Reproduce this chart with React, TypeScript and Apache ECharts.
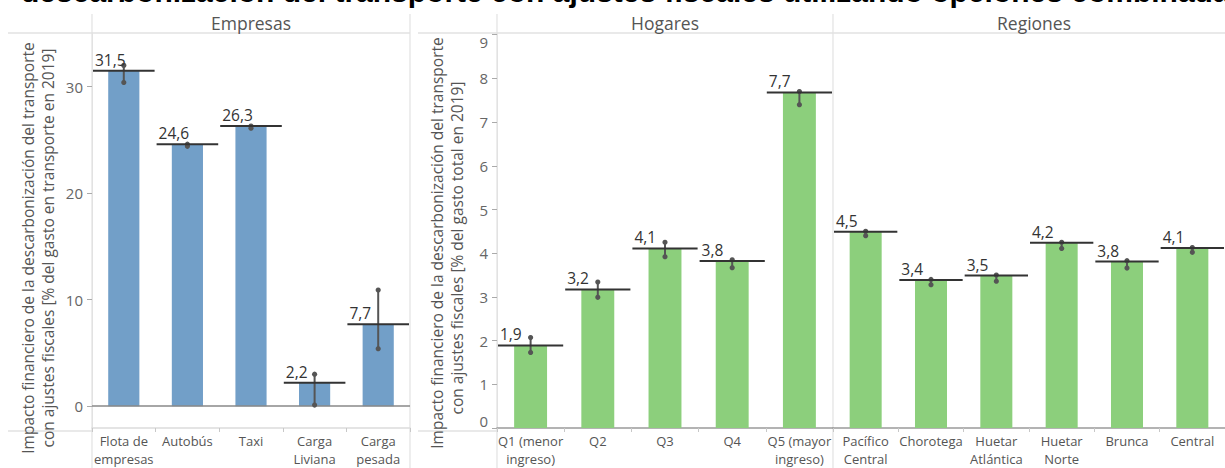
import React, { useEffect, useRef } from "react";
import * as echarts from "echarts";

const empresasCats = ["Flota de\nempresas", "Autobús", "Taxi", "Carga\nLiviana", "Carga\npesada"];
const empresasValues = [31.5, 24.6, 26.3, 2.2, 7.7];
const empresasLow = [30.4, 24.4, 26.1, 0.1, 5.4];
const empresasHigh = [32.0, 24.6, 26.3, 3.0, 10.9];

const hogaresCats = ["Q1 (menor\ningreso)", "Q2", "Q3", "Q4", "Q5 (mayor\ningreso)"];
const hogaresValues = [1.89, 3.17, 4.11, 3.82, 7.68];
const hogaresLow = [1.73, 2.99, 3.92, 3.67, 7.4];
const hogaresHigh = [2.07, 3.34, 4.25, 3.85, 7.7];

const regionesCats = ["Pacífico\nCentral", "Chorotega", "Huetar\nAtlántica", "Huetar\nNorte", "Brunca", "Central"];
const regionesValues = [4.49, 3.39, 3.49, 4.24, 3.81, 4.12];
const regionesLow = [4.4, 3.28, 3.36, 4.11, 3.66, 4.02];
const regionesHigh = [4.5, 3.4, 3.5, 4.25, 3.83, 4.13];

const empresasTicks = [0, 10, 20, 30];
const hogaresTicks = [0, 1, 2, 3, 4, 5, 6, 7, 8, 9];

const panelTitles = ["Empresas", "Hogares", "Regiones"];
const titleText = "descarbonización del transporte con ajustes fiscales utilizando opciones combinadas.";
const axisTitleEmpresas = [
  "Impacto financiero de la descarbonización del transporte",
  "con ajustes fiscales [% del gasto en transporte en 2019]",
];
const axisTitleHogares = [
  "Impacto financiero de la descarbonización del transporte",
  "con ajustes fiscales [% del gasto total en 2019]",
];

const BLUE = "#729fc8";
const GREEN = "#8ccf7c";
const FONT = '"Open Sans", "Noto Sans", sans-serif';

const fmt = (v: number) => v.toFixed(1).replace(".", ",");

function renderRef(params: any, api: any) {
  const cat = api.value(0);
  const v = api.value(1);
  const lo = api.value(2);
  const hi = api.value(3);
  const p = api.coord([cat, v]);
  const pLo = api.coord([cat, lo]);
  const pHi = api.coord([cat, hi]);
  const bw = api.size([1, 0])[0];
  const x0 = p[0] - bw / 2 + 1;
  const x1 = p[0] + bw / 2 - 1;
  return {
    type: "group",
    children: [
      {
        type: "line",
        shape: { x1: p[0], y1: pLo[1], x2: p[0], y2: pHi[1] },
        style: { stroke: "#555", lineWidth: 2 },
      },
      { type: "circle", shape: { cx: p[0], cy: pLo[1], r: 2.6 }, style: { fill: "#555" } },
      { type: "circle", shape: { cx: p[0], cy: pHi[1], r: 2.6 }, style: { fill: "#555" } },
      {
        type: "line",
        shape: { x1: x0, y1: p[1], x2: x1, y2: p[1] },
        style: { stroke: "#333", lineWidth: 2 },
      },
      {
        type: "text",
        x: x0 + 2,
        y: p[1] - 3,
        style: {
          text: fmt(v),
          fill: "#333",
          fontSize: 15.5,
          fontFamily: FONT,
          align: "left",
          verticalAlign: "bottom",
        },
      },
    ],
  };
}

export default function App() {
  const ref = useRef<HTMLDivElement>(null);
  useEffect(() => {
    document.body.style.margin = "0";
    if (!ref.current) return;
    const chart = echarts.init(ref.current, null, { renderer: "svg" });

    const xCommon = {
      type: "category" as const,
      axisLine: { onZero: false, lineStyle: { color: "#dcdcdc", width: 1.5 } },
      axisTick: { show: true, length: 4, interval: 0, lineStyle: { color: "#c8c8c8" } },
      axisLabel: {
        interval: 0,
        color: "#555",
        fontSize: 13,
        fontFamily: FONT,
        lineHeight: 18,
        margin: 4,
      },
    };
    const yLabel = { color: "#666", fontSize: 15, fontFamily: FONT, margin: 9 };

    const lightLine = "#e2e2e2";
    const gLine = (x1: number, y1: number, x2: number, y2: number, color = lightLine, w = 1.5) => ({
      type: "line",
      shape: { x1, y1, x2, y2 },
      style: { stroke: color, lineWidth: w },
      silent: true,
      z: 0,
    });
    const gText = (text: string, x: number, y: number, extra: any = {}) => ({
      type: "text",
      x,
      y,
      silent: true,
      style: {
        text,
        fill: "#555",
        fontSize: 15.5,
        fontFamily: FONT,
        align: "center",
        verticalAlign: "middle",
        ...extra,
      },
    });

    const option: any = {
      animation: false,
      grid: [
        { left: 92, top: 33, width: 318, height: 398 },
        { left: 497, top: 33, width: 336, height: 398 },
        { left: 833, top: 33, width: 403, height: 398 },
      ],
      xAxis: [
        { ...xCommon, gridIndex: 0, data: empresasCats },
        { ...xCommon, gridIndex: 1, data: hogaresCats, axisLine: { onZero: false, lineStyle: { color: "#9a9a9a", width: 1.5 } } },
        { ...xCommon, gridIndex: 2, data: regionesCats, axisLine: { onZero: false, lineStyle: { color: "#9a9a9a", width: 1.5 } } },
      ],
      yAxis: [
        {
          type: "value",
          gridIndex: 0,
          min: -2.05,
          max: 35.04,
          splitLine: { show: false },
          axisLine: { show: true, lineStyle: { color: lightLine } },
          axisTick: { show: true, length: 5, customValues: empresasTicks, lineStyle: { color: "#aaa" } },
          axisLabel: { ...yLabel, customValues: empresasTicks },
        },
        {
          type: "value",
          gridIndex: 1,
          min: 0,
          max: 9.04,
          splitLine: { show: false },
          axisLine: { show: true, lineStyle: { color: lightLine } },
          axisTick: { show: true, length: 5, customValues: hogaresTicks, lineStyle: { color: "#aaa" } },
          axisLabel: {
            ...yLabel,
            customValues: hogaresTicks,
            verticalAlignMinLabel: "bottom",
            verticalAlignMaxLabel: "top",
          },
        },
        {
          type: "value",
          gridIndex: 2,
          min: 0,
          max: 9.04,
          splitLine: { show: false },
          axisLine: { show: false },
          axisTick: { show: false },
          axisLabel: { show: false },
        },
      ],
      series: [
        {
          type: "bar",
          xAxisIndex: 0,
          yAxisIndex: 0,
          data: empresasValues,
          barWidth: "49%",
          itemStyle: { color: BLUE },
          markLine: {
            silent: true,
            symbol: "none",
            label: { show: false },
            lineStyle: { color: "#888", width: 1.5, type: "solid" },
            data: [{ yAxis: 0 }],
          },
        },
        {
          type: "custom",
          xAxisIndex: 0,
          yAxisIndex: 0,
          data: empresasValues.map((v, i) => [i, v, empresasLow[i], empresasHigh[i]]),
          encode: { x: 0, y: 1 },
          renderItem: renderRef,
          clip: false,
          z: 5,
        },
        {
          type: "bar",
          xAxisIndex: 1,
          yAxisIndex: 1,
          data: hogaresValues,
          barWidth: "49%",
          itemStyle: { color: GREEN },
        },
        {
          type: "custom",
          xAxisIndex: 1,
          yAxisIndex: 1,
          data: hogaresValues.map((v, i) => [i, v, hogaresLow[i], hogaresHigh[i]]),
          encode: { x: 0, y: 1 },
          renderItem: renderRef,
          clip: false,
          z: 5,
        },
        {
          type: "bar",
          xAxisIndex: 2,
          yAxisIndex: 2,
          data: regionesValues,
          barWidth: "49%",
          itemStyle: { color: GREEN },
        },
        {
          type: "custom",
          xAxisIndex: 2,
          yAxisIndex: 2,
          data: regionesValues.map((v, i) => [i, v, regionesLow[i], regionesHigh[i]]),
          encode: { x: 0, y: 1 },
          renderItem: renderRef,
          clip: false,
          z: 5,
        },
      ],
      graphic: [
        // title (partly cut off at the top, as in the source)
        {
          type: "text",
          x: 21,
          y: -8.5,
          silent: true,
          style: {
            text: titleText,
            fill: "#000",
            fontSize: 30,
            fontWeight: "bold",
            fontFamily: '"Liberation Sans", Arial, sans-serif',
            align: "left",
            verticalAlign: "middle",
          },
        },
        // frame lines
        gLine(8, 33, 410, 33),
        gLine(418, 33, 1225, 33),
        gLine(8, 431, 92, 431),
        gLine(418, 431, 497, 431),
        gLine(92, 14, 92, 468, lightLine, 1.2),
        gLine(410, 14, 410, 468, lightLine, 1.2),
        gLine(497, 14, 497, 468, lightLine, 1.2),
        gLine(833, 14, 833, 468, lightLine, 1.2),
        // panel headers
        gText(panelTitles[0], 251, 23, { fontSize: 17.5 }),
        gText(panelTitles[1], 665, 23, { fontSize: 17.5 }),
        gText(panelTitles[2], 1034, 23, { fontSize: 17.5 }),
        // axis titles
        { ...gText(axisTitleEmpresas[0], 28, 248), rotation: Math.PI / 2 },
        { ...gText(axisTitleEmpresas[1], 48, 248), rotation: Math.PI / 2 },
        { ...gText(axisTitleHogares[0], 437, 243), rotation: Math.PI / 2 },
        { ...gText(axisTitleHogares[1], 457, 248), rotation: Math.PI / 2 },
      ],
    };

    chart.setOption(option);
    return () => chart.dispose();
  }, []);

  return <div ref={ref} style={{ width: 1225, height: 468 }} />;
}
